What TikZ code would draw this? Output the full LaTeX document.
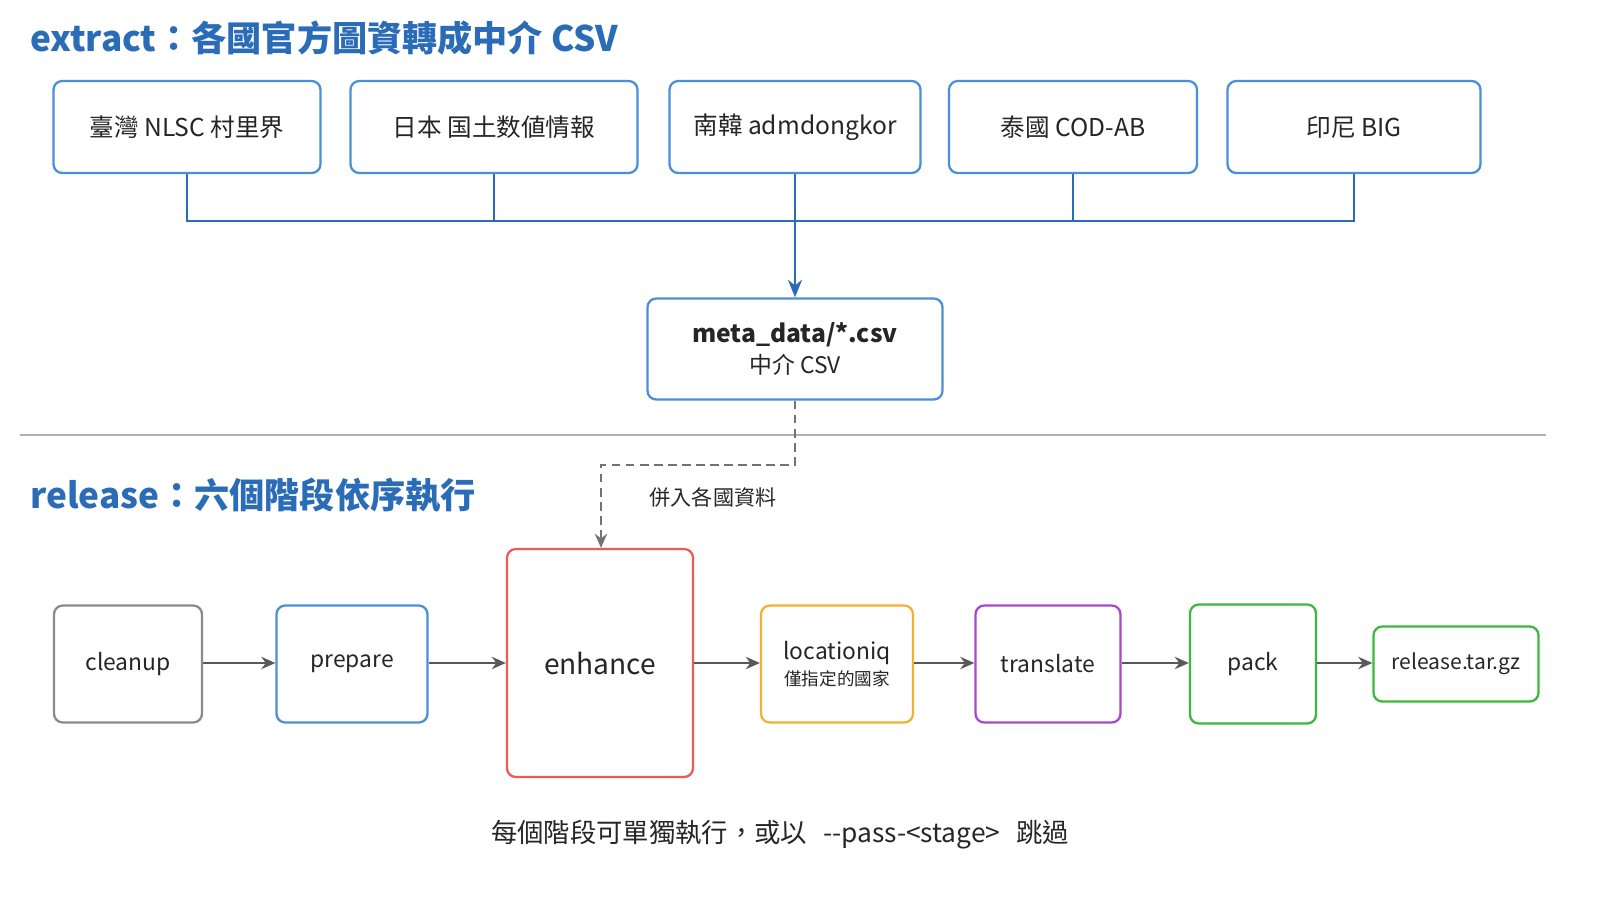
\documentclass[tikz,border=0pt]{standalone}
\usepackage{fontspec}
\setmainfont{Noto Sans CJK TC}
\usetikzlibrary{arrows.meta}
\definecolor{tblue}{HTML}{2B6CB8}
\definecolor{bblue}{HTML}{4A90D9}
\definecolor{bred}{HTML}{EE5A52}
\definecolor{borange}{HTML}{F2B230}
\definecolor{bpurple}{HTML}{A64AC9}
\definecolor{bgreen}{HTML}{3DB83D}
\definecolor{bgray}{HTML}{8A8A8A}
\begin{document}
\begin{tikzpicture}[x=0.02cm,y=-0.02cm,
  box/.style={draw=#1,line width=1.3pt,rounded corners=5pt,fill=white,align=center,inner sep=0pt,text=black!85},
  src/.style={box=bblue,minimum width=#1*0.02cm,minimum height=92*0.02cm,font=\fontsize{14}{17}\selectfont},
  stg/.style={draw=#1,line width=1.3pt,rounded corners=5pt,fill=white,align=center,inner sep=0pt,text=black!85,font=\fontsize{13}{16}\selectfont},
  flow/.style={draw=black!65,line width=1.2pt,-{Stealth[length=8pt,width=7pt]}},
  bus/.style={draw=tblue,line width=1.5pt}]
\useasboundingbox (0,0) rectangle (1600,900);
\fill[white] (0,0) rectangle (1600,900);
\node[anchor=west,text=tblue,font=\fontsize{20}{24}\selectfont\bfseries] (t1) at (24,38) {extract：各國官方圖資轉成中介 CSV};
\node[anchor=west,text=tblue,font=\fontsize{20}{24}\selectfont\bfseries] (t2) at (24,495) {release：六個階段依序執行};
\node[src=267] (a) at (187,127) {臺灣 NLSC 村里界};
\node[src=287] (b) at (494,127) {日本 国土数値情報};
\node[src=251] (c) at (795,127) {南韓 admdongkor};
\node[src=248] (d) at (1073,127) {泰國 COD-AB};
\node[src=253] (e) at (1354,127) {印尼 BIG};
\node[box=bblue,minimum width=295*0.02cm,minimum height=101*0.02cm] (m) at (795,349)
  {{\fontsize{14}{17}\selectfont\bfseries meta\_data/*.csv}\\[3pt]{\fontsize{13}{16}\selectfont 中介 CSV}};
\coordinate (busL) at (187,221);
\coordinate (busR) at (1354,221);
\draw[bus] (a.south) -- (busL) -- (busR) -- (e.south);
\draw[bus] (b.south) -- (b.south|-busL);
\draw[bus] (d.south) -- (d.south|-busL);
\draw[bus,-{Stealth[length=10pt,width=8pt]}] (c.south) -- (m.north);
\draw[black!30,line width=1pt] (20,435) -- (1546,435);
\node[stg=bgray,minimum width=148*0.02cm,minimum height=117*0.02cm] (s1) at (128,664) {cleanup};
\node[stg=bblue,minimum width=151*0.02cm,minimum height=117*0.02cm] (s2) at (352,664) {prepare};
\node[stg=bred,minimum width=186*0.02cm,minimum height=228*0.02cm,font=\fontsize{16}{19}\selectfont] (s3) at (600,663) {enhance};
\node[stg=borange,minimum width=152*0.02cm,minimum height=117*0.02cm] (s4) at (837,664) {locationiq\\[-1pt]{\fontsize{10}{12}\selectfont 僅指定的國家}};
\node[stg=bpurple,minimum width=145*0.02cm,minimum height=117*0.02cm] (s5) at (1048,664) {translate};
\node[stg=bgreen,minimum width=126*0.02cm,minimum height=119*0.02cm] (s6) at (1253,664) {pack};
\node[stg=bgreen,minimum width=165*0.02cm,minimum height=75*0.02cm,font=\fontsize{12}{15}\selectfont] (s7) at (1456,664) {release.tar.gz};
\foreach \p/\q in {s1/s2,s2/s3,s3/s4,s4/s5,s5/s6,s6/s7}
  \draw[flow] (\p.east|-0,663) -- (\q.west|-0,663);
\coordinate (d1) at (795,465);
\coordinate (d2) at (601,465);
\draw[black!55,line width=1.2pt,dash pattern=on 5pt off 3pt,-{Stealth[length=8pt,width=7pt]}] (m.south) -- (d1) -- (d2) -- (s3.north-|d2);
\node[font=\fontsize{12}{15}\selectfont,text=black!85] (lbl) at (713,497) {併入各國資料};
\node[font=\fontsize{15}{18}\selectfont,text=black!85] (ft) at (780,835) {每個階段可單獨執行，或以\hspace{0.6em}{-}{-}pass-<stage>\hspace{0.6em}跳過};
\end{tikzpicture}
\end{document}
